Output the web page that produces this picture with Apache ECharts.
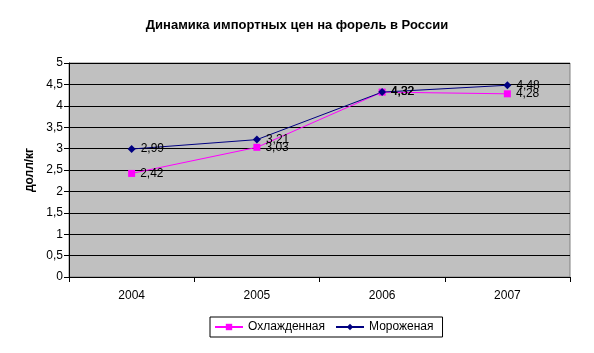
<!DOCTYPE html>
<html>
<head>
<meta charset="utf-8">
<title>Динамика импортных цен на форель в России</title>
<script src="https://cdn.jsdelivr.net/npm/echarts@6/dist/echarts.min.js"></script>
<style>
    html, body { margin: 0; padding: 0; background: #fff; }
    #main { width: 594px; height: 353px; }
</style>
</head>
<body>
<div id="main"></div>
<script>
    var years = ['2004', '2005', '2006', '2007'];
    var chilled = [2.42, 3.03, 4.32, 4.28];   // Охлажденная
    var frozen = [2.99, 3.21, 4.32, 4.48];    // Мороженая

    var font = 'Liberation Sans, Arial, sans-serif';

    function fmt(v) {
        return String(v).replace('.', ',');
    }

    var myChart = echarts.init(document.getElementById('main'));

    var lbl = {
        show: true,
        position: 'right',
        distance: 5,
        color: '#000',
        fontFamily: font,
        fontSize: 12,
        formatter: function (p) { return fmt(p.value); }
    };

    var option = {
        animation: false,
        title: {
            text: 'Динамика импортных цен на форель в России',
            left: 'center',
            top: 14,
            textStyle: { fontFamily: font, fontSize: 13, fontWeight: 'bold', color: '#000' }
        },
        grid: { left: 69, right: 24, top: 63, bottom: 76, backgroundColor: '#C0C0C0', borderColor: '#808080', borderWidth: 1, show: true },
        legend: {
            left: 210,
            top: 317,
            data: ['Охлажденная', 'Мороженая'],
            borderColor: '#000',
            borderWidth: 1,
            borderRadius: 0,
            padding: [4, 9, 4, 4],
            itemGap: 10,
            itemWidth: 28,
            itemHeight: 8,
            textStyle: { fontFamily: font, fontSize: 12, color: '#000' }
        },
        xAxis: {
            type: 'category',
            data: years,
            boundaryGap: true,
            axisLine: { lineStyle: { color: '#000', width: 1 } },
            axisTick: { show: true, length: 5, lineStyle: { color: '#000' } },
            axisLabel: { color: '#000', fontFamily: font, fontSize: 12, margin: 13 },
            splitLine: { show: false }
        },
        yAxis: {
            type: 'value',
            min: 0,
            max: 5,
            interval: 0.5,
            name: 'долл/кг',
            nameLocation: 'middle',
            nameGap: 33,
            nameTextStyle: { fontFamily: font, fontSize: 12, fontWeight: 'bold', color: '#000' },
            axisLine: { show: true, lineStyle: { color: '#000', width: 1 } },
            axisTick: { show: true, length: 5, lineStyle: { color: '#000' } },
            axisLabel: { color: '#000', fontFamily: font, fontSize: 12, margin: 6, formatter: fmt },
            splitLine: { show: true, lineStyle: { color: '#000', width: 1 } }
        },
        series: [
            {
                name: 'Охлажденная',
                type: 'line',
                data: chilled,
                symbol: 'rect',
                symbolSize: 7,
                color: '#FF00FF',
                lineStyle: { color: '#FF00FF', width: 1 },
                itemStyle: { color: '#FF00FF' },
                label: lbl
            },
            {
                name: 'Мороженая',
                type: 'line',
                data: frozen,
                symbol: 'diamond',
                symbolSize: 8,
                color: '#000080',
                lineStyle: { color: '#000080', width: 1 },
                itemStyle: { color: '#000080' },
                label: lbl
            }
        ]
    };

    myChart.setOption(option);
</script>
</body>
</html>
